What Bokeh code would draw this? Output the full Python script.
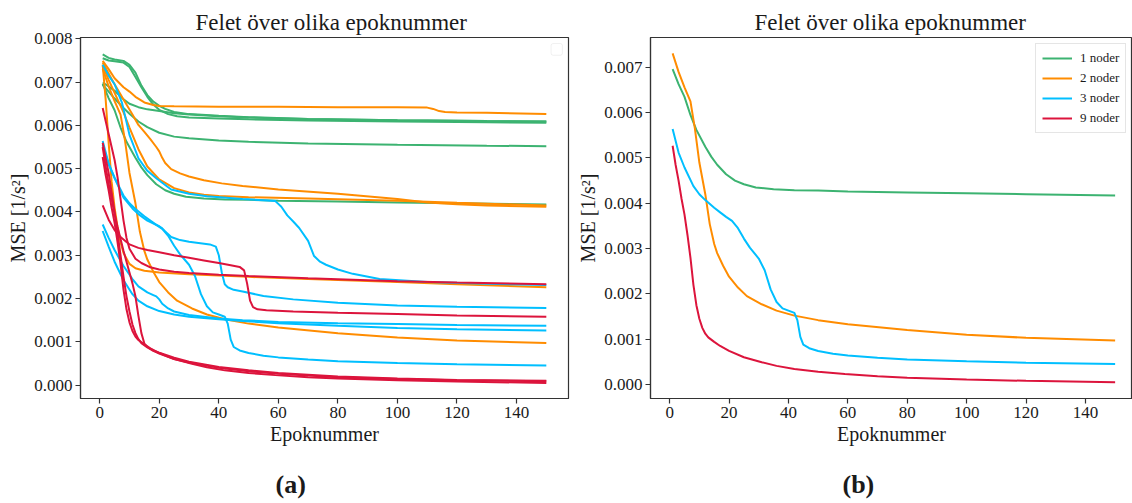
from bokeh.plotting import figure
from bokeh.layouts import row
from bokeh.models import (Range1d, FixedTicker, PrintfTickFormatter, Title,
                          Legend, LegendItem, BoxAnnotation)
from bokeh.embed import file_html
from bokeh.resources import INLINE

SCALE = 1e-3  # values below are in units of 0.001 1/s^2

# ---------------- data: left panel (a) ----------------
# 1 noder (green)
g1_x = [1, 3, 5, 8, 10, 12, 14, 16, 18, 20, 22, 25, 30, 40, 50, 70, 100, 130, 150]
g1_y = [7.64, 7.56, 7.52, 7.49, 7.40, 7.22, 6.92, 6.70, 6.55, 6.45, 6.38, 6.31, 6.26, 6.22, 6.19, 6.15, 6.12, 6.10, 6.09]
g2_x = [1, 3, 5, 8, 10, 12, 14, 16, 18, 20, 23, 26, 30, 40, 50, 70, 100, 130, 150]
g2_y = [7.55, 7.50, 7.48, 7.45, 7.35, 7.12, 6.88, 6.66, 6.48, 6.36, 6.26, 6.21, 6.18, 6.16, 6.14, 6.11, 6.09, 6.07, 6.06]
g3_x = [1, 3, 5, 8, 10, 13, 16, 20, 25, 30, 40, 50, 70, 100, 130, 150]
g3_y = [6.99, 6.90, 6.80, 6.60, 6.50, 6.42, 6.37, 6.33, 6.28, 6.25, 6.21, 6.18, 6.15, 6.12, 6.10, 6.09]
g4_x = [1, 3, 5, 8, 10, 13, 16, 20, 25, 30, 40, 50, 70, 100, 130, 150]
g4_y = [6.94, 6.78, 6.62, 6.40, 6.27, 6.09, 5.96, 5.83, 5.74, 5.70, 5.65, 5.62, 5.58, 5.55, 5.53, 5.52]
g5_x = [1, 3, 5, 7, 9, 12, 14, 16, 19, 22, 25, 29, 35, 42, 50, 60, 80, 100, 120, 150]
g5_y = [6.96, 6.63, 6.35, 5.95, 5.62, 5.25, 5.03, 4.85, 4.64, 4.50, 4.42, 4.35, 4.31, 4.29, 4.28, 4.26, 4.24, 4.22, 4.20, 4.17]

# 2 noder (orange)
o1_x = [1, 3, 5, 8, 10, 12, 15, 18, 20, 25, 40, 60, 80, 100, 110, 112, 114, 116, 120, 130, 150]
o1_y = [7.49, 7.30, 7.09, 6.88, 6.78, 6.66, 6.53, 6.47, 6.45, 6.44, 6.43, 6.43, 6.42, 6.42, 6.41, 6.38, 6.33, 6.31, 6.30, 6.29, 6.26]
o2_x = [1, 3, 5, 8, 11, 13, 15, 17, 19, 20, 21, 22, 24, 27, 30, 35, 41, 48, 60, 80, 100, 110, 120, 130, 150]
o2_y = [7.45, 7.20, 6.95, 6.60, 6.25, 6.01, 5.85, 5.68, 5.50, 5.40, 5.25, 5.13, 4.99, 4.89, 4.82, 4.73, 4.66, 4.60, 4.52, 4.42, 4.30, 4.22, 4.18, 4.15, 4.12]
o3_x = [1, 3, 5, 8, 10, 13, 16, 20, 25, 30, 35, 40, 50, 70, 100, 120, 140, 150]
o3_y = [7.38, 7.05, 6.75, 6.30, 5.95, 5.45, 5.05, 4.75, 4.55, 4.45, 4.40, 4.37, 4.34, 4.31, 4.26, 4.21, 4.17, 4.15]
o4_x = [1, 3, 5, 7, 8.5, 10, 12, 13.5, 15, 16, 18, 20, 23, 26, 31, 36, 42, 50, 60, 80, 100, 120, 150]
o4_y = [7.31, 6.90, 6.56, 6.25, 5.65, 4.90, 4.20, 3.54, 3.10, 2.90, 2.62, 2.38, 2.14, 1.95, 1.77, 1.63, 1.52, 1.42, 1.33, 1.20, 1.10, 1.03, 0.97]
o5_x = [1, 2, 3, 4, 5, 6, 7, 8, 10, 12, 15, 20, 30, 40, 50, 70, 100, 120, 150]
o5_y = [7.40, 6.60, 5.60, 4.70, 4.10, 3.65, 3.30, 3.05, 2.80, 2.70, 2.64, 2.60, 2.56, 2.53, 2.50, 2.45, 2.38, 2.33, 2.26]

# 3 noder (blue)
b1_x = [1, 3, 5, 7.5, 10, 13, 16, 19, 24, 30, 36, 48, 55, 59, 61, 63, 65, 67, 70, 72, 74, 76, 80, 85, 94, 110, 130, 150]
b1_y = [7.40, 7.15, 6.95, 6.52, 5.78, 5.24, 4.95, 4.78, 4.52, 4.42, 4.36, 4.30, 4.27, 4.25, 4.12, 3.92, 3.78, 3.63, 3.33, 2.98, 2.85, 2.78, 2.67, 2.57, 2.45, 2.38, 2.34, 2.31]
b2_x = [1, 3, 5, 8, 11, 13, 16, 20, 21, 22, 24, 27, 30, 37, 39, 40, 41, 42, 43, 45, 48, 55, 65, 80, 100, 120, 150]
b2_y = [5.55, 5.10, 4.78, 4.33, 4.08, 3.95, 3.80, 3.67, 3.62, 3.55, 3.42, 3.35, 3.31, 3.25, 3.20, 3.00, 2.60, 2.33, 2.26, 2.20, 2.16, 2.06, 1.98, 1.90, 1.84, 1.81, 1.78]
b3_x = [1, 3, 5, 8, 11, 13, 16, 18, 19, 20, 21, 23, 25, 30, 40, 48, 60, 80, 100, 120, 150]
b3_y = [3.71, 3.40, 3.12, 2.75, 2.45, 2.28, 2.14, 2.08, 2.05, 1.98, 1.88, 1.77, 1.70, 1.62, 1.54, 1.50, 1.46, 1.43, 1.41, 1.39, 1.37]
b4_x = [1, 3, 5, 8, 11, 13, 16, 20, 25, 30, 40, 48, 60, 80, 100, 120, 150]
b4_y = [3.56, 3.20, 2.85, 2.42, 2.10, 1.95, 1.82, 1.71, 1.63, 1.58, 1.52, 1.48, 1.43, 1.37, 1.32, 1.29, 1.26]
b5_x = [1, 3, 5, 8, 10, 12, 15, 17, 19, 21, 23, 25, 27, 30, 32, 34, 36, 38, 40, 42, 43, 44, 45, 47, 50, 55, 60, 70, 80, 100, 120, 150]
b5_y = [5.64, 5.12, 4.79, 4.38, 4.20, 4.07, 3.90, 3.80, 3.70, 3.61, 3.45, 3.22, 3.02, 2.78, 2.52, 2.10, 1.82, 1.68, 1.63, 1.58, 1.42, 1.05, 0.88, 0.80, 0.74, 0.68, 0.64, 0.59, 0.55, 0.51, 0.48, 0.45]

# 9 noder (red)
r1_x = [1, 2, 3, 4, 5, 6, 7, 8, 9, 10, 12, 14, 17, 20, 25, 30, 40, 50, 70, 100, 120, 150]
r1_y = [6.40, 6.10, 5.80, 5.50, 5.20, 4.80, 4.30, 3.80, 3.40, 3.15, 2.92, 2.82, 2.72, 2.67, 2.62, 2.59, 2.55, 2.52, 2.47, 2.40, 2.37, 2.33]
r2_x = [1, 3, 5, 7, 10, 13, 16, 20, 25, 30, 35, 40, 44, 47, 48.5, 49.5, 50.5, 51.5, 53, 56, 65, 80, 100, 120, 150]
r2_y = [4.15, 3.82, 3.58, 3.42, 3.25, 3.17, 3.12, 3.07, 3.00, 2.94, 2.88, 2.82, 2.77, 2.73, 2.65, 2.35, 1.95, 1.80, 1.75, 1.73, 1.70, 1.67, 1.64, 1.61, 1.58]
r3_x = [1, 2, 3, 4, 5, 6, 7, 8, 9, 10, 11, 12, 13, 14, 16, 18, 20, 25, 30, 40, 50, 60, 80, 100, 120, 150]
r3_y = [5.60, 5.25, 4.90, 4.45, 4.00, 3.50, 3.00, 2.50, 2.05, 1.70, 1.40, 1.20, 1.06, 0.97, 0.87, 0.79, 0.73, 0.60, 0.52, 0.40, 0.32, 0.26, 0.18, 0.14, 0.11, 0.09]
r4_x = [1, 2, 3, 4, 5, 6, 7, 8, 9, 10, 11, 12, 13, 15, 17, 20, 25, 31, 36, 42, 50, 59, 70, 80, 100, 120, 150]
r4_y = [5.27, 4.85, 4.50, 4.10, 3.75, 3.30, 2.80, 2.20, 1.75, 1.45, 1.25, 1.12, 1.04, 0.94, 0.85, 0.74, 0.60, 0.49, 0.41, 0.34, 0.28, 0.23, 0.18, 0.15, 0.11, 0.08, 0.05]
r5_x = [1, 2, 3, 4, 5, 6, 8, 10, 11, 12, 13, 14, 15, 16, 18, 20, 25, 30, 40, 50, 60, 80, 100, 120, 150]
r5_y = [5.50, 5.05, 4.65, 4.30, 3.95, 3.65, 3.10, 2.60, 2.35, 2.05, 1.60, 1.20, 0.96, 0.88, 0.80, 0.75, 0.63, 0.54, 0.42, 0.34, 0.28, 0.20, 0.15, 0.12, 0.10]

series_labels = ["1 noder", "2 noder", "3 noder", "9 noder"]
colors = ["#3CB371", "#FF8C00", "#00BFFF", "#DC143C"]

left_groups = [
    [(g1_x, g1_y), (g2_x, g2_y), (g3_x, g3_y), (g4_x, g4_y), (g5_x, g5_y)],
    [(o1_x, o1_y), (o2_x, o2_y), (o3_x, o3_y), (o4_x, o4_y), (o5_x, o5_y)],
    [(b1_x, b1_y), (b2_x, b2_y), (b3_x, b3_y), (b4_x, b4_y), (b5_x, b5_y)],
    [(r1_x, r1_y), (r2_x, r2_y), (r3_x, r3_y), (r4_x, r4_y), (r5_x, r5_y)],
]
# right panel (b): one run per node count
right_series = [(g5_x, g5_y), (o4_x, o4_y), (b5_x, b5_y), (r4_x, r4_y)]

title_text = "Felet över olika epoknummer"
x_label = "Epoknummer"
y_label = "MSE [1/s²]"
x_ticks = [0, 20, 40, 60, 80, 100, 120, 140]
y_ticks = [0.0, 0.001, 0.002, 0.003, 0.004, 0.005, 0.006, 0.007, 0.008]

SERIF = "Liberation Serif"
INK = "#1a1a1a"
FRAME = "#333333"


def style(p, title_offset, caption, caption_offset):
    p.title.text = title_text
    p.title.align = "left"
    p.title.offset = title_offset
    p.title.text_font = SERIF
    p.title.text_font_size = "23px"
    p.title.text_font_style = "normal"
    p.title.text_color = INK
    p.title.standoff = 6
    p.xgrid.visible = False
    p.ygrid.visible = False
    p.outline_line_color = FRAME
    p.outline_line_width = 1.2
    for ax in (p.xaxis[0], p.yaxis[0]):
        ax.axis_line_color = FRAME
        ax.axis_line_width = 1.2
        ax.major_tick_line_color = FRAME
        ax.major_tick_line_width = 1.2
        ax.major_tick_in = 0
        ax.major_tick_out = 5
        ax.minor_tick_line_color = None
        ax.major_label_text_font = SERIF
        ax.major_label_text_font_size = "17px"
        ax.major_label_text_color = INK
        ax.major_label_standoff = 3
        ax.axis_label_text_font = SERIF
        ax.axis_label_text_font_size = "20px"
        ax.axis_label_text_font_style = "normal"
        ax.axis_label_text_color = INK
        ax.axis_label_standoff = 2
    p.xaxis[0].axis_label = x_label
    p.yaxis[0].axis_label = y_label
    p.xaxis[0].ticker = FixedTicker(ticks=x_ticks)
    p.yaxis[0].ticker = FixedTicker(ticks=y_ticks)
    p.yaxis[0].formatter = PrintfTickFormatter(format="%.3f")
    # blank spacer, then the sub-figure caption
    p.add_layout(Title(text=" ", text_font=SERIF, text_font_size="14px", standoff=3), "below")
    p.add_layout(Title(text=caption, align="left", offset=caption_offset,
                       text_font=SERIF, text_font_size="26px", text_font_style="bold",
                       text_color=INK, standoff=0), "below")


p1 = figure(width=572, height=503, output_backend="svg", toolbar_location=None,
            x_range=Range1d(-6.45, 157.45), y_range=Range1d(-0.00031, 0.00803),
            min_border_left=80, min_border_right=4, min_border_top=37, min_border_bottom=105)
style(p1, 115, "(a)", 195)
for grp, col in zip(left_groups, colors):
    for xs, ys in grp:
        p1.line(xs, [v * SCALE for v in ys], line_color=col, line_width=2)
# empty legend frame in the corner (as in the original)
p1.add_layout(BoxAnnotation(left=151.6, right=155.4, bottom=0.00762, top=0.00789,
                            fill_color="white", fill_alpha=1, line_color="#cccccc",
                            line_width=1, border_radius=2))

p2 = figure(width=560, height=503, output_backend="svg", toolbar_location=None,
            x_range=Range1d(-6.45, 155.85), y_range=Range1d(-0.00031, 0.00766),
            min_border_left=78, min_border_right=0, min_border_top=37, min_border_bottom=105)
style(p2, 104, "(b)", 192)
items = []
for (xs, ys), col, lab in zip(right_series, colors, series_labels):
    r = p2.line(xs, [v * SCALE for v in ys], line_color=col, line_width=2)
    items.append(LegendItem(label=lab, renderers=[r]))
leg = Legend(items=items, location=(385, 265), border_line_color="#cccccc",
             border_line_width=1, background_fill_color="white", background_fill_alpha=0.9,
             label_text_font=SERIF, label_text_font_size="13px", label_text_color=INK,
             glyph_width=30, glyph_height=16, label_height=16, label_standoff=8,
             spacing=4, padding=6, margin=0)
p2.add_layout(leg, "center")

layout = row(p1, p2)
open("out.html", "w").write(file_html(layout, INLINE))
